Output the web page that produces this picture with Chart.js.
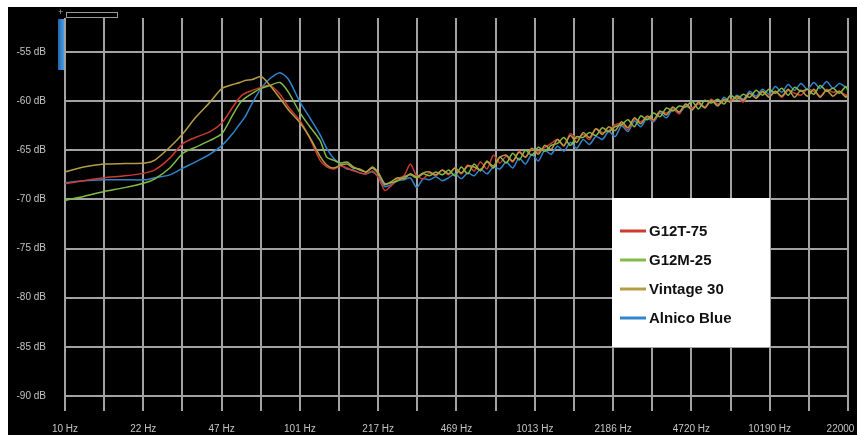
<!DOCTYPE html>
<html>
<head>
<meta charset="utf-8">
<title>Speaker frequency response</title>
<script src="https://cdn.jsdelivr.net/npm/chart.js@4.4.1/dist/chart.umd.min.js"></script>
<style>
    html, body { margin: 0; padding: 0; background: #fff; }
    #wrap { position: absolute; left: 8px; top: 7px; width: 849px; height: 428px; background: #000; }
    /* little zoom widget in the corner of the original screenshot */
    .zoom-box { position: absolute; left: 66px; top: 12px; width: 50px; height: 4px; border: 1px solid #9a9a9a; }
    .zoom-plus { position: absolute; left: 58px; top: 7px; color: #aaa; font: 9px "Liberation Sans", Arial, sans-serif; }
    .zoom-bar { position: absolute; left: 58px; top: 19px; width: 6px; height: 51px; background: linear-gradient(to right, #2466aa, #4a9ee6); }
</style>
</head>
<body>
<div id="wrap"><canvas id="responseChart"></canvas></div>
<div class="zoom-box"></div>
<div class="zoom-plus">+</div>
<div class="zoom-bar"></div>

<script>
// --- Data ---
// low band (smooth part) then the noisy part from 140 Hz up
const FREQS = [
    10, 12, 14.7, 18, 22, 24.2, 28, 31.9, 36, 41.6, 46.8, 52, 55.8, 58.7, 63, 68.7, 75, 82.7, 90, 100.7, 111, 122.6, 131,
    140, 150, 160, 170, 181, 193, 205, 218, 232, 247,
    263, 280, 298, 317, 338, 360, 383, 408, 434, 462,
    492, 524, 558, 594, 633, 674, 718, 765, 815, 868,
    924, 984, 1048, 1116, 1189, 1266, 1348, 1436, 1529, 1628,
    1734, 1847, 1967, 2095, 2231, 2376, 2530, 2695, 2870, 3057,
    3256, 3468, 3693, 3933, 4189, 4461, 4751, 5060, 5389, 5739,
    6112, 6509, 6932, 7383, 7863, 8374, 8918, 9498, 10115, 10773,
    11473, 12219, 13013, 13859, 14760, 15719, 16741, 17829, 18988, 20222,
    21536, 22000
];

const SERIES_NAMES = ['G12T-75', 'G12M-25', 'Vintage 30', 'Alnico Blue'];

const g12t75 = [
    -68.4, -68.1, -67.8, -67.6, -67.3, -67.0, -65.8, -64.3, -63.7, -63.1, -62.2, -60.6, -59.6, -59.2, -58.9, -58.6, -58.4, -59.3, -60.6, -62.0, -63.8, -66.0, -66.7,
    -66.9, -66.6, -66.8, -67.1, -67.3, -67.4, -67.1, -67.8, -69.1, -68.6,
    -67.9, -67.6, -66.4, -67.6, -67.9, -67.3, -67.6, -67.0, -67.5, -66.8,
    -67.4, -66.5, -67.1, -66.2, -66.9, -65.5, -66.3, -65.6, -66.2, -65.1,
    -65.7, -64.9, -65.2, -64.7, -64.3, -63.9, -64.6, -63.3, -63.8, -63.4,
    -63.9, -62.8, -63.2, -63.0, -62.4, -62.3, -62.9, -61.8, -62.1, -61.6,
    -62.0, -61.1, -61.2, -60.8, -61.3, -60.3, -60.7, -60.3, -60.6, -59.8,
    -60.3, -60.0, -59.9, -59.6, -60.1, -59.2, -59.7, -59.1, -59.5, -59.0,
    -59.6, -58.9, -59.2, -59.4, -58.8, -59.0, -59.5, -58.8, -59.1, -59.0,
    -59.4, -59.3
];

const g12m25 = [
    -70.1, -69.7, -69.2, -68.8, -68.3, -67.9, -66.8, -65.3, -64.7, -64.0, -63.3, -61.4, -60.2, -59.7, -59.2, -58.7, -58.4, -58.1, -59.1, -61.2, -62.6, -64.0, -65.7,
    -66.0, -66.3, -66.2, -66.7, -67.0, -67.2, -66.8, -67.4, -68.4, -68.3,
    -68.1, -67.7, -67.5, -67.8, -67.4, -67.6, -67.2, -67.5, -67.0, -67.6,
    -66.7, -67.4, -66.4, -67.1, -66.1, -66.8, -65.7, -66.3, -65.3, -66.0,
    -65.0, -65.5, -64.7, -65.1, -64.5, -64.3, -63.7, -64.5, -63.6, -63.7,
    -63.2, -63.5, -62.7, -63.1, -62.6, -62.4, -61.9, -62.6, -61.5, -61.9,
    -61.2, -61.6, -60.7, -61.0, -60.5, -60.6, -60.0, -60.8, -59.9, -60.2,
    -59.8, -60.3, -59.4, -59.8, -59.3, -59.6, -58.9, -59.4, -58.8, -59.2,
    -58.7, -59.4, -58.6, -59.0, -58.8, -59.3, -58.4, -59.0, -58.7, -59.2,
    -58.5, -59.0
];

const vintage30 = [
    -67.2, -66.7, -66.4, -66.35, -66.3, -66.0, -64.7, -63.3, -61.7, -60.1, -58.7, -58.3, -58.1, -57.9, -57.8, -57.5, -58.4, -59.7, -60.9, -62.2, -63.7, -65.6, -66.5,
    -66.8, -66.5, -66.4, -66.8, -66.9, -67.2, -66.7, -67.3, -68.5, -68.2,
    -67.8, -67.9, -67.4, -67.7, -67.3, -67.2, -67.5, -67.0, -67.4, -66.8,
    -67.3, -66.6, -66.7, -67.0, -66.2, -66.6, -65.7, -65.5, -66.1, -65.2,
    -65.7, -64.8, -65.4, -64.5, -64.9, -63.9, -64.5, -63.5, -64.2, -63.2,
    -63.7, -62.8, -63.4, -62.6, -63.0, -62.1, -62.7, -61.7, -62.3, -61.5,
    -61.9, -61.0, -61.4, -60.6, -61.1, -60.3, -60.9, -60.1, -60.7, -59.9,
    -60.5, -59.8, -60.1, -59.5, -59.9, -59.2, -59.7, -59.0, -59.6, -59.0,
    -59.5, -58.8, -59.6, -58.9, -59.5, -58.8, -59.6, -58.9, -59.5, -59.0,
    -59.6, -59.3
];

const alnicoBlue = [
    -68.3, -68.1, -68.0, -68.0, -68.0, -67.8, -67.5, -66.8, -66.2, -65.4, -64.5, -63.3, -62.3, -61.6, -60.2, -58.7, -57.7, -57.1, -57.8, -60.1, -61.7, -63.4, -64.8,
    -65.8, -66.4, -66.9, -67.0, -67.3, -67.4, -67.2, -67.7, -68.7, -68.5,
    -68.1, -68.0, -67.8, -68.8, -67.9, -68.0, -67.7, -68.1, -67.8, -67.4,
    -67.9, -67.3, -67.6, -66.9, -67.4, -66.7, -66.9, -66.2, -66.8, -65.8,
    -66.4, -65.4, -66.1, -65.0, -65.4, -64.6, -65.1, -64.2, -64.8, -63.9,
    -64.4, -63.6, -63.9, -63.1, -63.6, -62.5, -63.1, -62.0, -62.6, -61.7,
    -62.1, -61.2, -61.7, -60.8, -61.2, -60.5, -60.8, -60.2, -60.6, -59.9,
    -60.4, -59.6, -60.1, -59.4, -59.8, -59.0, -59.5, -58.8, -59.3, -58.5,
    -59.1, -58.3, -58.9, -58.2, -58.8, -58.1, -58.7, -58.0, -58.7, -58.2,
    -58.6, -58.7
];

// grid lines on the frequency axis, only every other one gets a label
const GRID_FREQS = [10, 14.69, 21.59, 31.72, 46.61, 68.48, 100.6, 147.9, 217.2, 319.2, 469.0,
    689.2, 1012.6, 1487.8, 2186.1, 3212, 4719.7, 6934.8, 10189, 14971, 22000];
const GRID_LABELS = ['10 Hz', '', '22 Hz', '', '47 Hz', '', '101 Hz', '', '217 Hz', '', '469 Hz',
    '', '1013 Hz', '', '2186 Hz', '', '4720 Hz', '', '10190 Hz', '', '22000 Hz'];
const DB_TICKS = [-55, -60, -65, -70, -75, -80, -85, -90];

const LINE_COLORS = ['#cc3a30', '#80bc46', '#b59c44', '#3084cc'];
const DRAW_ORDER = [2, 1, 0, 3]; // lower = drawn on top

// --- Legend box drawn inside the plot (white card) ---
const boxLegend = {
    id: 'boxLegend',
    afterDraw(chart) {
        const ctx = chart.ctx;
        const x = 604, y = 191, w = 158, h = 149;
        ctx.save();
        ctx.fillStyle = '#fff';
        ctx.fillRect(x, y, w, h);
        ctx.font = 'bold 15px "Liberation Sans", Arial, sans-serif';
        ctx.textBaseline = 'middle';
        chart.data.datasets.forEach((ds, i) => {
            const rowY = y + 33 + i * 29;
            ctx.strokeStyle = ds.borderColor;
            ctx.lineWidth = 3;
            ctx.beginPath();
            ctx.moveTo(x + 8, rowY);
            ctx.lineTo(x + 34, rowY);
            ctx.stroke();
            ctx.fillStyle = '#111';
            ctx.fillText(ds.label, x + 37, rowY + 1);
        });
        ctx.restore();
    }
};

document.addEventListener('DOMContentLoaded', function() {
    const allSeries = [g12t75, g12m25, vintage30, alnicoBlue];

    const datasets = allSeries.map((vals, i) => ({
        label: SERIES_NAMES[i],
        data: FREQS.map((f, k) => ({ x: f, y: vals[k] })),
        borderColor: LINE_COLORS[i],
        borderWidth: 1.5,
        pointRadius: 0,
        tension: 0.25,
        fill: false,
        order: DRAW_ORDER[i]
    }));

    new Chart(document.getElementById('responseChart'), {
        type: 'line',
        data: { datasets: datasets },
        options: {
            responsive: true,
            maintainAspectRatio: false,
            animation: false,
            layout: { padding: { left: 0, right: 9, top: 11, bottom: 0 } },
            plugins: {
                legend: { display: false },
                tooltip: { enabled: false }
            },
            scales: {
                x: {
                    type: 'logarithmic',
                    min: 10,
                    max: 22000,
                    border: { display: false },
                    grid: { color: '#a2a2a2', lineWidth: 2, drawTicks: false },
                    afterBuildTicks: (scale) => {
                        scale.ticks = GRID_FREQS.map(v => ({ value: v }));
                    },
                    afterFit: (scale) => {
                        scale.height = 24;
                        scale.paddingLeft = 0;
                        scale.paddingRight = 0;
                    },
                    ticks: {
                        autoSkip: false,
                        maxRotation: 0,
                        padding: 12,
                        color: '#c4c4c4',
                        font: { family: '"Liberation Sans", Arial, sans-serif', size: 10 },
                        callback: function(value, index) { return GRID_LABELS[index]; }
                    }
                },
                y: {
                    min: -91.53,
                    max: -51.54,
                    border: { display: false },
                    grid: { color: '#a2a2a2', lineWidth: 2, drawTicks: false },
                    afterBuildTicks: (scale) => {
                        scale.ticks = DB_TICKS.map(v => ({ value: v }));
                    },
                    afterFit: (scale) => {
                        scale.width = 57;
                        scale.paddingTop = 0;
                        scale.paddingBottom = 0;
                    },
                    ticks: {
                        padding: 19,
                        color: '#c4c4c4',
                        font: { family: '"Liberation Sans", Arial, sans-serif', size: 10 },
                        callback: function(value) { return value + ' dB'; }
                    }
                }
            }
        },
        plugins: [boxLegend]
    });
});
</script>
</body>
</html>
